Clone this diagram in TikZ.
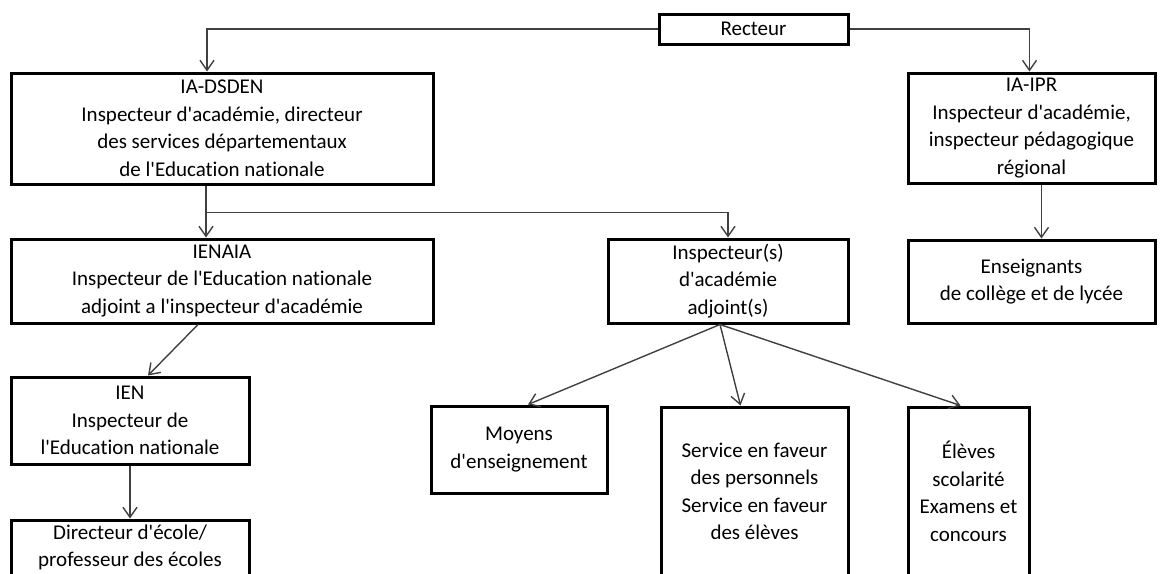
\documentclass[tikz,border=0pt]{standalone}
\usepackage{fontspec}
\setmainfont{Carlito}[Ligatures={NoCommon,TeXOff}]
\usetikzlibrary{arrows.meta}

\begin{document}
\begin{tikzpicture}[
    x = 0.5pt, y = -0.5pt,
      box/.style={draw, line width=1.5pt, rectangle, align=center, inner sep=0pt, font=\fontsize{10.5}{13.75}\selectfont},
      arrow/.style={-{Straight Barb[length=5pt, width=7pt]}, line width=0.7pt, color=black!75}
  ]
      \useasboundingbox (0,0) rectangle (1161,573);
      \clip (0,0) rectangle (1161,573);

      % Recteur
      \node (recteur) at (753.5, 29) [box, minimum width=94.5pt, minimum height=15pt] {Recteur};

      % IA-DSDEN
      \node (dsden) at (222, 128.5) [box, minimum width=211pt, minimum height=55.5pt] {IA-DSDEN\\Inspecteur d'académie, directeur\\des services départementaux\\de l'Education nationale};

      % IA-IPR
      \node (ipr) at (1031.5, 128) [box, minimum width=123.5pt, minimum height=55pt] {IA-IPR\\Inspecteur d'académie,\\inspecteur pédagogique\\régional};

      % IENAIA
      \node (ienaia) at (222, 281) [box, minimum width=211pt, minimum height=42pt] {IENAIA\\Inspecteur de l'Education nationale\\adjoint a l'inspecteur d'académie};

      % Inspecteurs adjoints
      \node (adjoints) at (728, 281) [box, minimum width=120pt, minimum height=42pt] {Inspecteur(s)\\d'académie\\adjoint(s)};

      % Enseignants
      \node (enseignants) at (1031.5, 281.5) [box, minimum width=123.5pt, minimum height=41.5pt] {Enseignants\\de collège et de lycée};

      % IEN
      \node (ien) at (130, 420.5) [box, minimum width=119pt, minimum height=43.5pt] {IEN\\Inspecteur de\\l'Education nationale};

      % Directeur d'ecole
      \node (directeur) at (130, 547.5) [box, minimum width=119pt, minimum height=27.5pt] {Directeur d'école/\\professeur des écoles};

      % Moyens
      \node (moyens) at (519, 449.5) [box, minimum width=88pt, minimum height=43.5pt] {Moyens\\d'enseignement};

      % Services
      \node (service) at (754.5, 491.5) [box, minimum width=93.5pt, minimum height=84.5pt] {Service en faveur\\des personnels\\Service en faveur\\des élèves};

      % Eleves
      \node (eleves) at (968.5, 491.5) [box, minimum width=60.5pt, minimum height=84.5pt] {Élèves\\scolarité\\Examens et\\concours};

      % Arrows
      \draw[arrow] (recteur.west) -| ([xshift=-7.5pt]dsden.north);
      \draw[arrow] (recteur.east) -| ([xshift=-1pt]ipr.north);
      \draw[arrow] ([xshift=-8pt]dsden.south) -- ([xshift=-8pt]ienaia.north);
      \draw[arrow] ([xshift=-8pt]dsden.south) -- ++(0,27) -| (adjoints.north);
      \draw[arrow] ([xshift=5pt]ipr.south) -- ([xshift=5pt]enseignants.north);
      \draw[arrow] ([xshift=-12pt]ienaia.south) -- ([xshift=9pt]ien.north);
      \draw[arrow] (ien.south) -- (directeur.north);
      \draw[arrow] ([xshift=-4pt]adjoints.south) -- ([xshift=4.5pt]moyens.north);
      \draw[arrow] ([xshift=-4pt]adjoints.south) -- ([xshift=-7pt]service.north);
      \draw[arrow] ([xshift=-4pt]adjoints.south) -- ([xshift=-4pt]eleves.north);
  \end{tikzpicture}
\end{document}
